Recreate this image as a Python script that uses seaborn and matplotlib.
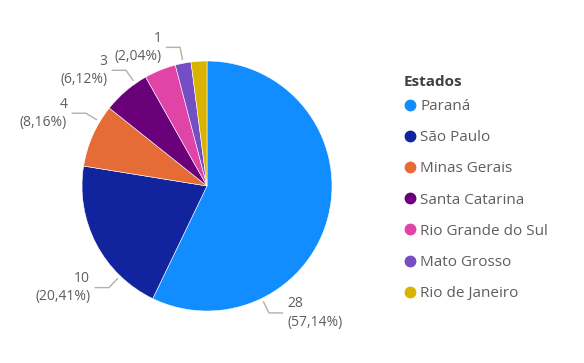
import numpy as np
import matplotlib.pyplot as plt
from matplotlib.lines import Line2D
import seaborn as sns

# ---------------------------------------------
# Data
# ---------------------------------------------
estados = ["Paraná", "São Paulo", "Minas Gerais", "Santa Catarina",
           "Rio Grande do Sul", "Mato Grosso", "Rio de Janeiro"]
valores = [28, 10, 4, 3, 2, 1, 1]
cores = ["#118DFF", "#12239E", "#E66C37", "#6B007B",
         "#E044A7", "#744EC2", "#D9B300"]

# which slices get a data label, and the angle where the leader line leaves the pie
rotulados = ["Paraná", "São Paulo", "Minas Gerais", "Santa Catarina", "Mato Grosso"]
angulo_rotulo = {"Paraná": -64, "São Paulo": -134, "Minas Gerais": 149,
                 "Santa Catarina": 125, "Mato Grosso": 101}

sns.set_theme(style="white")
plt.rcParams["font.family"] = ["Open Sans", "DejaVu Sans"]

W, H = 584, 363
fig = plt.figure(figsize=(W / 100, H / 100), dpi=100)

# square axes so that radius 1 = 125 px, centre at (207, 186) px from top-left
cx, cy, half = 207, 186, 150
ax = fig.add_axes([(cx - half) / W, (H - cy - half) / H, 2 * half / W, 2 * half / H])

ax.pie(valores, colors=cores, startangle=90, counterclock=False, radius=1.0,
       wedgeprops=dict(linewidth=0.4, edgecolor="white"))
ax.set_xlim(-1.2, 1.2)
ax.set_ylim(-1.2, 1.2)
ax.set_aspect("equal")
ax.axis("off")

total = sum(valores)
cinza_txt = "#605E5C"
cinza_linha = "#B3B0AD"

for nome, v in zip(estados, valores):
    if nome not in rotulados:
        continue
    a = np.deg2rad(angulo_rotulo[nome])
    x0, y0 = 1.03 * np.cos(a), 1.03 * np.sin(a)
    x1, y1 = 1.13 * np.cos(a), 1.13 * np.sin(a)
    lado = 1 if np.cos(a) > 0 else -1
    x2 = x1 + lado * 0.11
    ax.plot([x0, x1, x2], [y0, y1, y1], color=cinza_linha, lw=1, clip_on=False)
    pct = f"{100 * v / total:.2f}".replace(".", ",")
    ax.text(x2 + lado * 0.04, y1, f"{v}\n({pct}%)", ha="left" if lado > 0 else "right",
            va="center", fontsize=10, color=cinza_txt, linespacing=1.3, clip_on=False)

# ---------------------------------------------
# Legend
# ---------------------------------------------
fig.text(404 / W, 1 - 82 / H, "Estados", fontsize=11, fontweight="bold",
         color="#404040", ha="left", va="center")

handles = [Line2D([0], [0], marker="o", linestyle="", markersize=7.5,
                  markerfacecolor=c, markeredgecolor=c) for c in cores]
leg = fig.legend(handles, estados, loc="upper left", bbox_to_anchor=(405 / W, 1 - 99 / H),
                 frameon=False, handlelength=0.7, handletextpad=0.3, labelspacing=1.06,
                 borderpad=0, borderaxespad=0, fontsize=11)
for t in leg.get_texts():
    t.set_color(cinza_txt)

fig.savefig("out.png", dpi=100)
